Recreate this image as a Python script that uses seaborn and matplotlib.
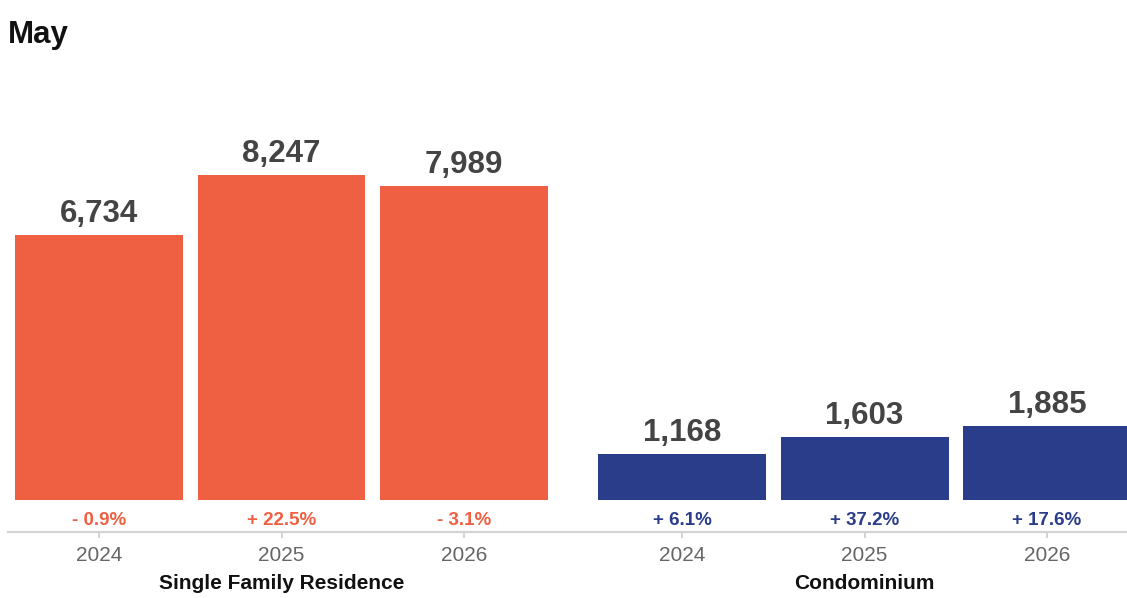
import matplotlib
matplotlib.use("Agg")
import matplotlib.pyplot as plt
import seaborn as sns
import pandas as pd

# ---- data ----
groups = ["Single Family Residence"] * 3 + ["Condominium"] * 3
years = ["2024", "2025", "2026", "2024", "2025", "2026"]
values = [6734, 8247, 7989, 1168, 1603, 1885]
changes = ["- 0.9%", "+ 22.5%", "- 3.1%", "+ 6.1%", "+ 37.2%", "+ 17.6%"]
group_names = ["Single Family Residence", "Condominium"]
colors = {"Single Family Residence": "#EF5F41", "Condominium": "#2A3D8B"}
title = "May"

sns.set_style("white")
plt.rcParams["font.family"] = ["Liberation Sans", "DejaVu Sans"]

# positions: category index plus a gap between the two groups
gap = 0.195
pos = [i + gap * group_names.index(g) for i, g in enumerate(groups)]
df = pd.DataFrame({"pos": pos, "value": values, "group": groups, "year": years})

W, H = 1127, 598
fig = plt.figure(figsize=(W / 100, H / 100), dpi=100)
ax_bottom_px, ax_top_px = 532, 100
ax = fig.add_axes([8 / W, (H - ax_bottom_px) / H, (W - 8) / W, (ax_bottom_px - ax_top_px) / H])

sns.barplot(data=df, x="pos", y="value", hue="group", palette=colors,
            native_scale=True, width=0.92, dodge=False, legend=False,
            saturation=1, ax=ax, linewidth=0)

scale = (500 - 235) / 6734.0  # px per unit
ax.set_ylim(-(ax_bottom_px - 500) / scale, (500 - ax_top_px) / scale)
x0 = -91 / 182.5
ax.set_xlim(x0, x0 + (W - 8) / 182.5)

for s in ["top", "left", "right"]:
    ax.spines[s].set_visible(False)
ax.spines["bottom"].set_color("#d3d3d3")
ax.spines["bottom"].set_linewidth(1.6)
ax.set_yticks([])
ax.set_xticks(pos)
ax.set_xticklabels(years, fontsize=15, color="#666666")
ax.tick_params(axis="x", bottom=True, direction="out", length=4, width=1.2,
               color="#cccccc", pad=6)
ax.set_xlabel("")
ax.set_ylabel("")

for p, v, c, g in zip(pos, values, changes, groups):
    ax.annotate(f"{v:,}", xy=(p, v), xytext=(0, 9.4), textcoords="offset points",
                ha="center", va="baseline", fontsize=22.5, fontweight="bold",
                color="#444444")
    ax.annotate(c, xy=(p, 0), xytext=(0, -18), textcoords="offset points",
                ha="center", va="baseline", fontsize=13.5, fontweight="bold",
                color=colors[g])

# group labels
for gname in group_names:
    gp = [p for p, g in zip(pos, groups) if g == gname]
    cx = sum(gp) / len(gp)
    ax.annotate(gname, xy=(cx, 0), xycoords=("data", "axes fraction"),
                xytext=(0, -(589 - 532) * 0.72), textcoords="offset points",
                ha="center", va="baseline", fontsize=15, fontweight="bold",
                color="#111111")

fig.text(8 / W, 1 - 43 / H, title, ha="left", va="baseline", fontsize=22.5,
         fontweight="bold", color="#111111")

fig.savefig("out.png", dpi=100)
